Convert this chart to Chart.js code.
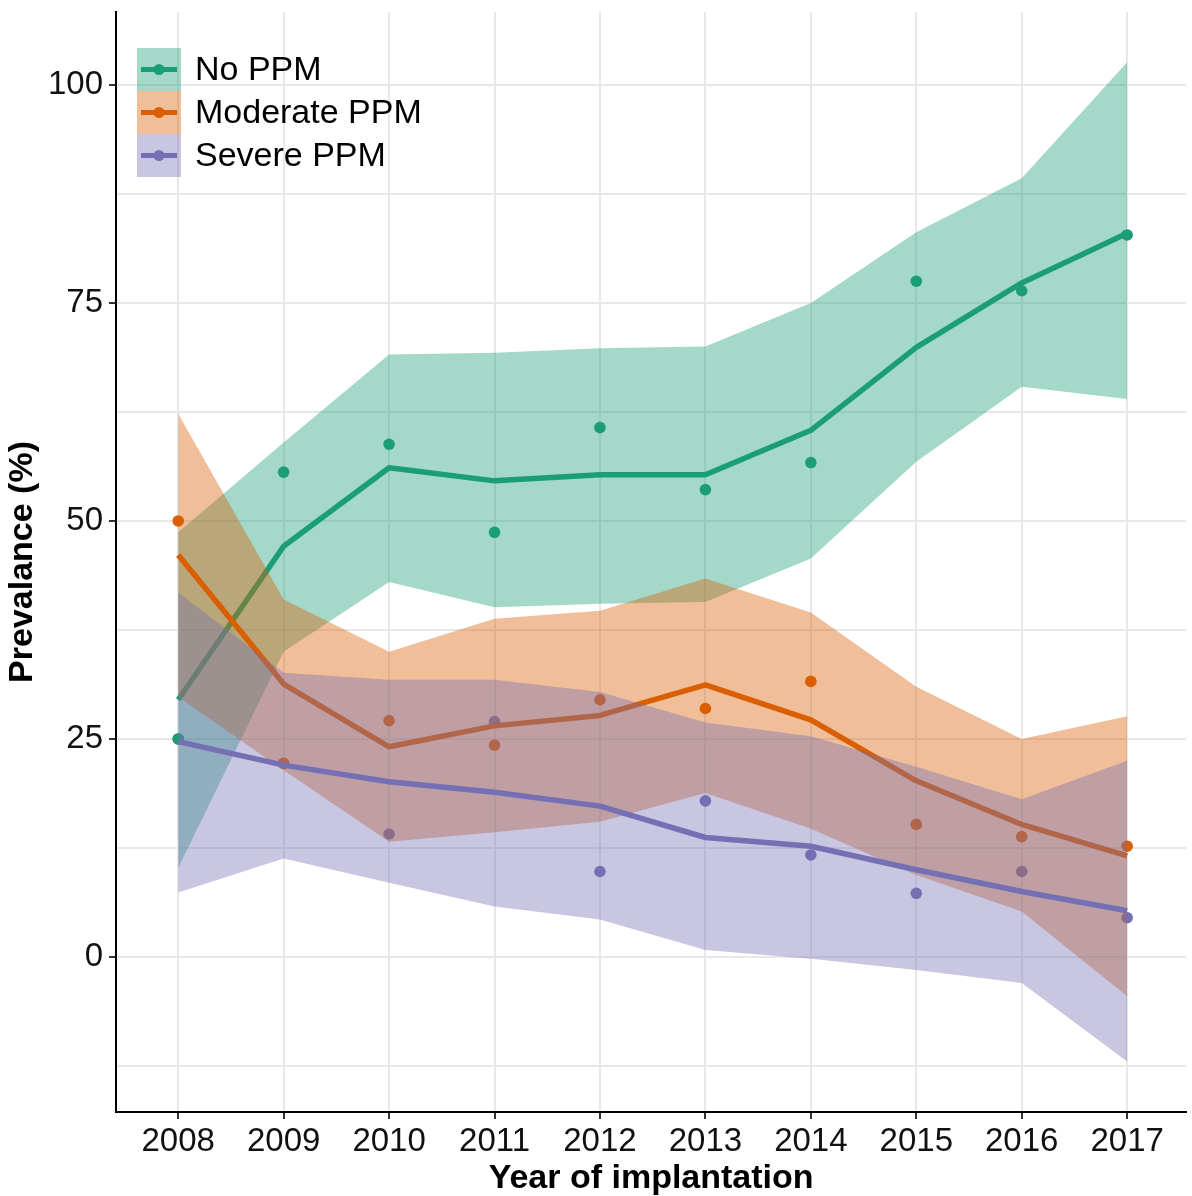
<!DOCTYPE html>
<html>
<head>
<meta charset="utf-8">
<script src="https://cdn.jsdelivr.net/npm/chart.js@4.4.1/dist/chart.umd.min.js"></script>
<style>
  html, body { margin: 0; padding: 0; background: #fff; }
  #wrap { width: 1192px; height: 1196px; }
</style>
</head>
<body>
<div id="wrap"><canvas id="prevChart" width="1192" height="1196"></canvas></div>
<script>
// Prevalence of PPM by year of implantation

const years = [2008, 2009, 2010, 2011, 2012, 2013, 2014, 2015, 2016, 2017];
const seriesNames = ['No PPM', 'Moderate PPM', 'Severe PPM'];

// observed yearly prevalence (points)
const noPpmObs = [25.0, 55.6, 58.8, 48.7, 60.7, 53.6, 56.7, 77.5, 76.4, 82.8];
const modPpmObs = [50.0, 22.2, 27.1, 24.3, 29.5, 28.5, 31.6, 15.2, 13.8, 12.7];
const sevPpmObs = [25.0, 22.2, 14.1, 27.0, 9.8, 17.9, 11.7, 7.3, 9.8, 4.5];

// smoothed trend lines
const noPpmFit = [29.5, 47.1, 56.1, 54.6, 55.3, 55.3, 60.4, 69.9, 77.3, 83.0];
const modPpmFit = [46.1, 31.3, 24.1, 26.5, 27.7, 31.2, 27.2, 20.2, 15.2, 11.6];
const sevPpmFit = [24.7, 22.0, 20.1, 18.9, 17.3, 13.7, 12.7, 10.0, 7.5, 5.3];

// confidence bands
const noPpmHi = [48.7, 59.0, 69.1, 69.3, 69.8, 70.0, 75.0, 83.1, 89.3, 102.6];
const noPpmLo = [10.2, 35.0, 43.0, 40.1, 40.5, 40.7, 45.7, 56.8, 65.4, 64.0];
const modPpmHi = [62.3, 41.0, 35.0, 38.8, 39.7, 43.4, 39.5, 31.0, 25.0, 27.6];
const modPpmLo = [29.8, 21.4, 13.2, 14.3, 15.5, 18.8, 14.7, 9.4, 5.2, -4.5];
const sevPpmHi = [41.8, 32.6, 31.8, 31.8, 30.4, 26.9, 25.3, 21.8, 18.1, 22.5];
const sevPpmLo = [7.4, 11.3, 8.5, 5.8, 4.3, 0.8, -0.2, -1.5, -3.0, -12.0];

const yTickValues = [-12.5, 0, 12.5, 25, 37.5, 50, 62.5, 75, 87.5, 100];
const yTickLabels = [0, 25, 50, 75, 100];

const colors = ['#1b9e77', '#d95f02', '#7570b3'];
const fills = ['rgba(27, 158, 119, 0.4)', 'rgba(217, 95, 2, 0.4)', 'rgba(117, 112, 179, 0.4)'];
const FONT = '"Liberation Sans", Arial, Helvetica, sans-serif';

function pts(arr) {
  return years.map((yr, i) => ({ x: yr, y: arr[i] }));
}

function pointSet(arr, i) {
  return {
    label: seriesNames[i] + ' observed',
    data: pts(arr),
    showLine: false,
    pointRadius: 5.8,
    pointBorderWidth: 0,
    pointBackgroundColor: colors[i],
    fill: false,
    order: 10
  };
}

// upper edge fills down to the next dataset (lower edge)
function bandSets(hi, lo, i, order) {
  return [{
    label: seriesNames[i] + ' upper',
    data: pts(hi),
    borderWidth: 0,
    borderColor: 'rgba(0,0,0,0)',
    pointRadius: 0,
    backgroundColor: fills[i],
    fill: '+1',
    order: order
  }, {
    label: seriesNames[i] + ' lower',
    data: pts(lo),
    borderWidth: 0,
    borderColor: 'rgba(0,0,0,0)',
    pointRadius: 0,
    fill: false,
    order: order
  }];
}

function lineSet(arr, i, order) {
  return {
    label: seriesNames[i],
    data: pts(arr),
    borderColor: colors[i],
    borderWidth: 5.5,
    borderJoinStyle: 'round',
    pointRadius: 0,
    tension: 0,
    fill: false,
    order: order
  };
}

const legendBox = {
  id: 'legendBox',
  afterDraw(chart) {
    const c = chart.ctx;
    const area = chart.chartArea;
    const x0 = area.left + 21;
    const y0 = area.top + 36;
    const key = 43;
    c.save();
    seriesNames.forEach((name, i) => {
      const y = y0 + i * key;
      c.fillStyle = fills[i];
      c.fillRect(x0, y, key + 1, key);
      c.strokeStyle = colors[i];
      c.lineWidth = 5;
      c.beginPath();
      c.moveTo(x0 + 4, y + key / 2);
      c.lineTo(x0 + key - 3, y + key / 2);
      c.stroke();
      c.fillStyle = colors[i];
      c.beginPath();
      c.arc(x0 + key / 2 + 0.5, y + key / 2, 5.5, 0, Math.PI * 2);
      c.fill();
      c.fillStyle = '#000';
      c.font = '34px ' + FONT;
      c.textBaseline = 'middle';
      c.textAlign = 'left';
      c.fillText(name, x0 + 58, y + key / 2 + 1);
    });
    c.restore();
  }
};

const ctx = document.getElementById('prevChart');

new Chart(ctx, {
  type: 'line',
  data: {
    datasets: [
      pointSet(noPpmObs, 0),
      pointSet(modPpmObs, 1),
      pointSet(sevPpmObs, 2),
      ...bandSets(noPpmHi, noPpmLo, 0, 9),
      lineSet(noPpmFit, 0, 8),
      ...bandSets(modPpmHi, modPpmLo, 1, 7),
      lineSet(modPpmFit, 1, 6),
      ...bandSets(sevPpmHi, sevPpmLo, 2, 5),
      lineSet(sevPpmFit, 2, 4)
    ]
  },
  options: {
    responsive: false,
    animation: false,
    events: [],
    layout: {
      padding: { top: 12, right: 2, left: 0, bottom: 0 }
    },
    plugins: {
      legend: { display: false },
      tooltip: { enabled: false },
      filler: { drawTime: 'beforeDatasetDraw' }
    },
    scales: {
      x: {
        type: 'linear',
        min: 2007.41,
        max: 2017.56,
        afterBuildTicks: axis => {
          axis.ticks = years.map(v => ({ value: v }));
        },
        afterFit: scale => {
          scale.height = 84;
          scale.paddingLeft = 0;
          scale.paddingRight = 0;
        },
        border: { display: true, color: '#000', width: 2 },
        grid: {
          color: '#e8e8e8',
          lineWidth: 2,
          tickLength: 7,
          tickColor: '#333',
          tickWidth: 2
        },
        ticks: {
          autoSkip: false,
          maxRotation: 0,
          padding: 3,
          color: '#111',
          font: { family: FONT, size: 33 },
          callback: value => String(value)
        },
        title: {
          display: true,
          text: 'Year of implantation',
          color: '#000',
          padding: { top: 0, bottom: -3 },
          font: { family: FONT, size: 34, weight: 'bold' }
        }
      },
      y: {
        min: -17.78,
        max: 108.37,
        afterBuildTicks: axis => {
          axis.ticks = yTickValues.map(v => ({ value: v }));
        },
        afterFit: scale => {
          scale.width = 116;
          scale.paddingTop = 0;
          scale.paddingBottom = 0;
        },
        border: { display: true, color: '#000', width: 2 },
        grid: {
          color: '#e8e8e8',
          lineWidth: 2,
          tickLength: 7,
          tickWidth: 2,
          tickColor: c => (c.tick && yTickLabels.includes(c.tick.value)) ? '#333' : 'rgba(0,0,0,0)'
        },
        ticks: {
          padding: 6,
          color: '#111',
          font: { family: FONT, size: 33 },
          callback: value => yTickLabels.includes(value) ? String(value) : ''
        },
        title: {
          display: true,
          text: 'Prevalance (%)',
          color: '#000',
          padding: { top: 2, bottom: 0 },
          font: { family: FONT, size: 34, weight: 'bold' }
        }
      }
    }
  },
  plugins: [legendBox]
});
</script>
</body>
</html>
